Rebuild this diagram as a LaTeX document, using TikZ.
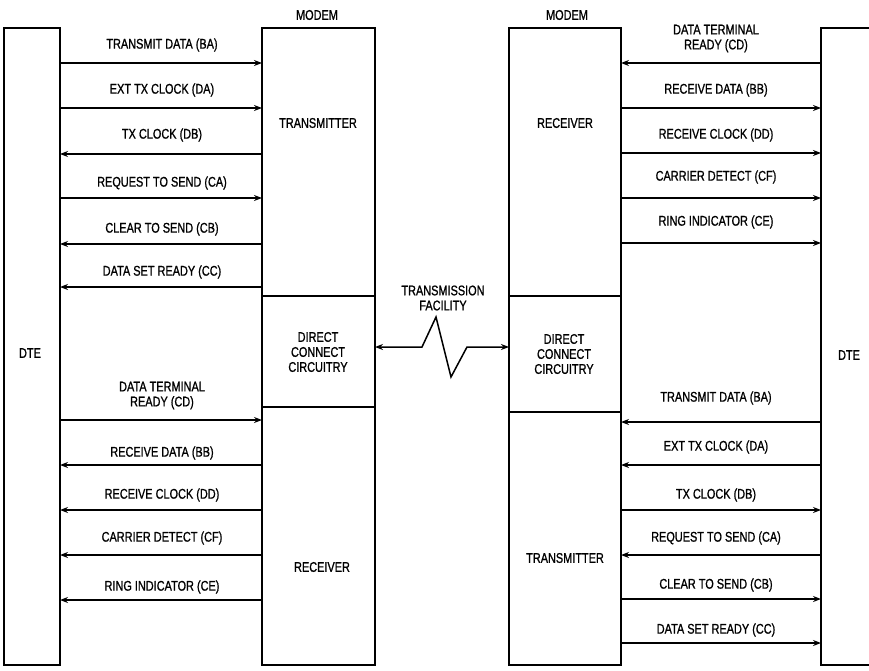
\documentclass[tikz,border=0pt]{standalone}
\usepackage{fontspec}
\setmainfont{Liberation Sans}[FakeStretch=0.78,FakeBold=1]
\usetikzlibrary{arrows.meta}
\begin{document}
\begin{tikzpicture}[x=1pt,y=-1pt,
  box/.style={draw,line width=1.8pt,inner sep=0pt,outer sep=0pt},
  sig/.style={-{Stealth[length=8pt,width=6pt]},line width=1.5pt},
  lbl/.style={font=\fontsize{14}{15}\selectfont,align=center,inner sep=0pt}]
\useasboundingbox (0,0) rectangle (869,671);
% boxes
\node[box,minimum width=56pt,minimum height=637pt] (dteL) at (32,346.5) {};
\node[box,minimum width=113pt,minimum height=637pt] (modemL) at (318.5,346.5) {};
\node[box,minimum width=112pt,minimum height=637pt] (modemR) at (565,346.5) {};
\node[box,minimum width=79pt,minimum height=637pt] (dteR) at (860.5,346.5) {};
% dividers
\draw[line width=1.8pt] (modemL.west |- 0,296) -- (modemL.east |- 0,296);
\draw[line width=1.8pt] (modemL.west |- 0,407) -- (modemL.east |- 0,407);
\draw[line width=1.8pt] (modemR.west |- 0,296) -- (modemR.east |- 0,296);
\draw[line width=1.8pt] (modemR.west |- 0,412) -- (modemR.east |- 0,412);
% box texts
\node[lbl] (mL) at (317,15) {MODEM};
\node[lbl] (mR) at (567,15) {MODEM};
\node[lbl] (txL) at (318,123) {TRANSMITTER};
\node[lbl] (rxR) at (565,123) {RECEIVER};
\node[lbl] (dccL) at (318,352) {DIRECT\\CONNECT\\CIRCUITRY};
\node[lbl] (dccR) at (564,354) {DIRECT\\CONNECT\\CIRCUITRY};
\node[lbl] (rxL) at (322,567) {RECEIVER};
\node[lbl] (txR) at (565,558) {TRANSMITTER};
\node[lbl] (dteLt) at (30,353) {DTE};
\node[lbl] (dteRt) at (849,355) {DTE};
\node[lbl] (tf) at (443,298) {TRANSMISSION\\FACILITY};
% transmission facility
\draw[{Stealth[length=8pt,width=6pt]}-{Stealth[length=8pt,width=6pt]},line width=1.5pt,line join=miter]
  (modemL.east |- 0,347) -- (422,347) -- (436,317) -- (451,377) -- (467,347) -- (modemR.west |- 0,347);
% left side: DTE -> modem
\foreach \ay/\ly/\t in {63/45/TRANSMIT DATA (BA),108/90/EXT TX CLOCK (DA),198/183/REQUEST TO SEND (CA),420/{395.5}/{DATA TERMINAL\\READY (CD)}}{
  \draw[sig] (dteL.east |- 0,\ay) -- (modemL.west |- 0,\ay);
  \node[lbl] at (162,\ly) {\t};
}
% left side: modem -> DTE
\foreach \ay/\ly/\t in {154/135/TX CLOCK (DB),244/229/CLEAR TO SEND (CB),287/272/DATA SET READY (CC),465/453/RECEIVE DATA (BB),510/495/RECEIVE CLOCK (DD),555/538/CARRIER DETECT (CF),600/587/RING INDICATOR (CE)}{
  \draw[sig] (modemL.west |- 0,\ay) -- (dteL.east |- 0,\ay);
  \node[lbl] at (162,\ly) {\t};
}
% right side: modem -> DTE
\foreach \ay/\ly/\t in {108/90/RECEIVE DATA (BB),153/135/RECEIVE CLOCK (DD),198/177/CARRIER DETECT (CF),243/222/RING INDICATOR (CE),510/495/TX CLOCK (DB),599/585/CLEAR TO SEND (CB),643/630/DATA SET READY (CC)}{
  \draw[sig] (modemR.east |- 0,\ay) -- (dteR.west |- 0,\ay);
  \node[lbl] at (716,\ly) {\t};
}
% right side: DTE -> modem
\foreach \ay/\ly/\t in {63/{38.5}/{DATA TERMINAL\\READY (CD)},422/398/TRANSMIT DATA (BA),465/447/EXT TX CLOCK (DA),555/538/REQUEST TO SEND (CA)}{
  \draw[sig] (dteR.west |- 0,\ay) -- (modemR.east |- 0,\ay);
  \node[lbl] at (716,\ly) {\t};
}
\end{tikzpicture}
\end{document}
